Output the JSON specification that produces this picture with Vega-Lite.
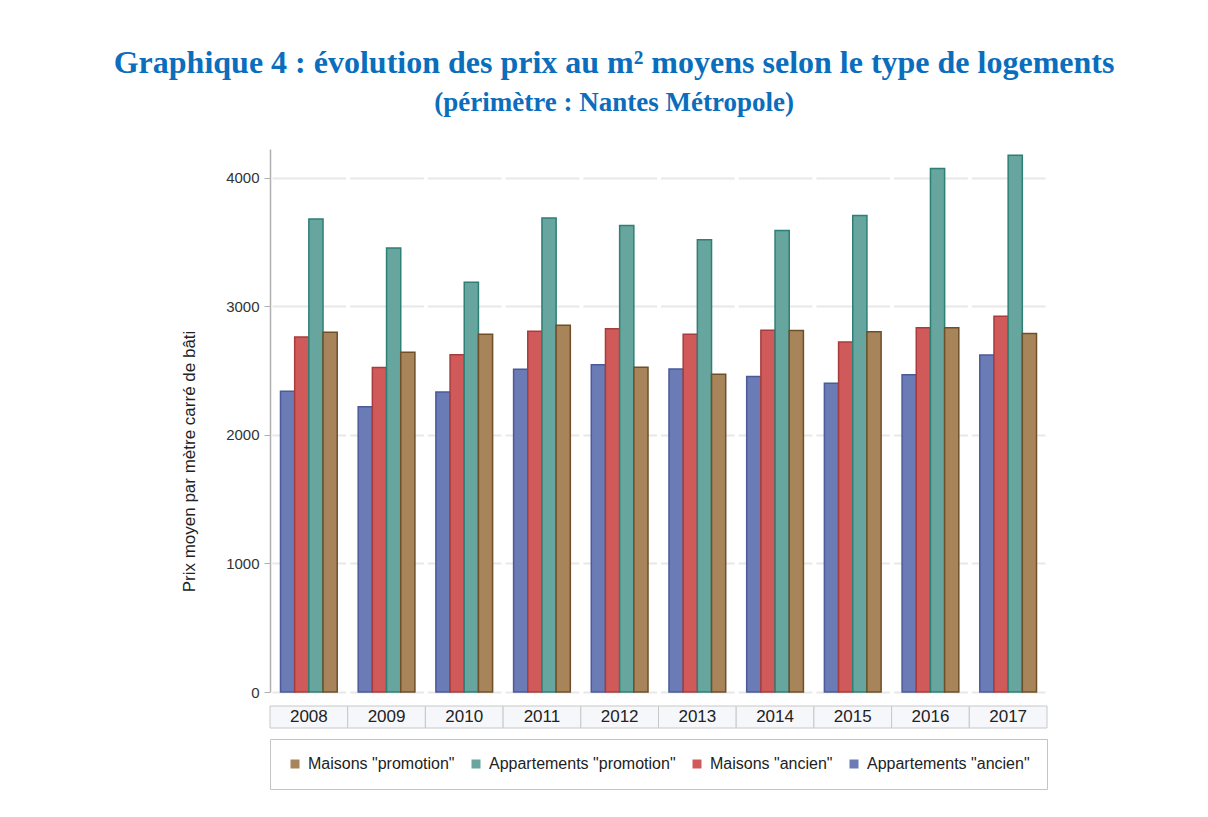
{
  "$schema": "https://vega.github.io/schema/vega-lite/v6.json",
  "background": "white",
  "padding": {"left": 113, "top": 47, "right": 10, "bottom": 5},
  "title": {
    "text": "Graphique 4 : évolution des prix au m² moyens selon le type de logements",
    "subtitle": "(périmètre : Nantes Métropole)",
    "font": "Liberation Serif", "fontSize": 32, "fontWeight": "bold", "color": "#0a6ebd",
    "subtitleFont": "Liberation Serif", "subtitleFontSize": 27, "subtitleFontWeight": "bold", "subtitleColor": "#0a6ebd",
    "anchor": "middle", "offset": 32, "subtitlePadding": 10
  },
  "datasets": {
    "prix": [
      {"annee": "2008", "type": "Appartements \"ancien\"", "prix": 2340},
      {"annee": "2008", "type": "Maisons \"ancien\"", "prix": 2763},
      {"annee": "2008", "type": "Appartements \"promotion\"", "prix": 3681},
      {"annee": "2008", "type": "Maisons \"promotion\"", "prix": 2799},
      {"annee": "2009", "type": "Appartements \"ancien\"", "prix": 2220},
      {"annee": "2009", "type": "Maisons \"ancien\"", "prix": 2524},
      {"annee": "2009", "type": "Appartements \"promotion\"", "prix": 3455},
      {"annee": "2009", "type": "Maisons \"promotion\"", "prix": 2643},
      {"annee": "2010", "type": "Appartements \"ancien\"", "prix": 2335},
      {"annee": "2010", "type": "Maisons \"ancien\"", "prix": 2625},
      {"annee": "2010", "type": "Appartements \"promotion\"", "prix": 3188},
      {"annee": "2010", "type": "Maisons \"promotion\"", "prix": 2783},
      {"annee": "2011", "type": "Appartements \"ancien\"", "prix": 2511},
      {"annee": "2011", "type": "Maisons \"ancien\"", "prix": 2806},
      {"annee": "2011", "type": "Appartements \"promotion\"", "prix": 3689},
      {"annee": "2011", "type": "Maisons \"promotion\"", "prix": 2853},
      {"annee": "2012", "type": "Appartements \"ancien\"", "prix": 2547},
      {"annee": "2012", "type": "Maisons \"ancien\"", "prix": 2827},
      {"annee": "2012", "type": "Appartements \"promotion\"", "prix": 3629},
      {"annee": "2012", "type": "Maisons \"promotion\"", "prix": 2526},
      {"annee": "2013", "type": "Appartements \"ancien\"", "prix": 2514},
      {"annee": "2013", "type": "Maisons \"ancien\"", "prix": 2783},
      {"annee": "2013", "type": "Appartements \"promotion\"", "prix": 3518},
      {"annee": "2013", "type": "Maisons \"promotion\"", "prix": 2472},
      {"annee": "2014", "type": "Appartements \"ancien\"", "prix": 2454},
      {"annee": "2014", "type": "Maisons \"ancien\"", "prix": 2814},
      {"annee": "2014", "type": "Appartements \"promotion\"", "prix": 3590},
      {"annee": "2014", "type": "Maisons \"promotion\"", "prix": 2812},
      {"annee": "2015", "type": "Appartements \"ancien\"", "prix": 2402},
      {"annee": "2015", "type": "Maisons \"ancien\"", "prix": 2724},
      {"annee": "2015", "type": "Appartements \"promotion\"", "prix": 3707},
      {"annee": "2015", "type": "Maisons \"promotion\"", "prix": 2804},
      {"annee": "2016", "type": "Appartements \"ancien\"", "prix": 2469},
      {"annee": "2016", "type": "Maisons \"ancien\"", "prix": 2835},
      {"annee": "2016", "type": "Appartements \"promotion\"", "prix": 4073},
      {"annee": "2016", "type": "Maisons \"promotion\"", "prix": 2835},
      {"annee": "2017", "type": "Appartements \"ancien\"", "prix": 2622},
      {"annee": "2017", "type": "Maisons \"ancien\"", "prix": 2924},
      {"annee": "2017", "type": "Appartements \"promotion\"", "prix": 4177},
      {"annee": "2017", "type": "Maisons \"promotion\"", "prix": 2789}
    ],
    "annees": [
      {"annee": "2008"}, {"annee": "2009"}, {"annee": "2010"}, {"annee": "2011"}, {"annee": "2012"},
      {"annee": "2013"}, {"annee": "2014"}, {"annee": "2015"}, {"annee": "2016"}, {"annee": "2017"}
    ]
  },
  "spacing": 5,
  "resolve": {"scale": {"x": "independent"}},
  "vconcat": [
    {
      "width": 777,
      "height": 543,
      "data": {"name": "prix"},
      "mark": {"type": "bar", "strokeWidth": 1.5},
      "encoding": {
        "x": {"field": "annee", "type": "ordinal", "scale": {"paddingInner": 0.27, "paddingOuter": 0.135}, "axis": null},
        "xOffset": {"field": "type", "type": "nominal", "scale": {"domain": ["Appartements \"ancien\"", "Maisons \"ancien\"", "Appartements \"promotion\"", "Maisons \"promotion\""], "paddingInner": 0, "paddingOuter": 0}},
        "y": {
          "field": "prix", "type": "quantitative",
          "scale": {"domain": [0, 4225], "nice": false, "zero": true},
          "axis": {
            "values": [0, 1000, 2000, 3000, 4000], "format": "d",
            "title": "Prix moyen par mètre carré de bâti", "titleY": 312,
            "grid": true, "gridDash": [73.7, 4], "gridDashOffset": 75.7, "gridColor": "#e8e8e8", "gridWidth": 2,
            "domainColor": "#b0b0b0", "domainWidth": 1.5, "tickColor": "#b0b0b0", "tickSize": 6,
            "labelFont": "Liberation Sans", "labelFontSize": 15, "labelColor": "#333333", "labelPadding": 5,
            "titleFont": "Liberation Sans", "titleFontSize": 17, "titleFontWeight": "normal", "titleColor": "#222222", "titlePadding": 27
          }
        },
        "color": {
          "field": "type", "type": "nominal",
          "scale": {
            "domain": ["Maisons \"promotion\"", "Appartements \"promotion\"", "Maisons \"ancien\"", "Appartements \"ancien\""],
            "range": ["#a8845a", "#66a69e", "#d05a5a", "#6b7bb5"]
          },
          "legend": {
            "title": null, "orient": "bottom", "direction": "horizontal",
            "strokeColor": "#c4c4c4", "padding": 17, "offset": 10,
            "symbolType": "square", "symbolSize": 81, "symbolStrokeWidth": 0,
            "labelFont": "Liberation Sans", "labelFontSize": 16, "labelColor": "#222222", "labelLimit": 400, "labelOffset": 5,
            "columnPadding": 13
          }
        },
        "stroke": {
          "field": "type", "type": "nominal",
          "scale": {
            "domain": ["Maisons \"promotion\"", "Appartements \"promotion\"", "Maisons \"ancien\"", "Appartements \"ancien\""],
            "range": ["#6e4f28", "#2e7f74", "#a83c3c", "#4a5a9a"]
          },
          "legend": null
        }
      }
    },
    {
      "width": 777,
      "height": 22,
      "data": {"name": "annees"},
      "layer": [
        {
          "mark": {"type": "rect", "fill": "#f6f7fb", "stroke": "#c8c8c8", "strokeWidth": 1},
          "encoding": {
            "x": {"field": "annee", "type": "ordinal", "scale": {"paddingInner": 0, "paddingOuter": 0}, "axis": null}
          }
        },
        {
          "mark": {"type": "text", "font": "Liberation Sans", "fontSize": 17, "color": "#222222", "baseline": "middle"},
          "encoding": {
            "x": {"field": "annee", "type": "ordinal", "axis": null},
            "text": {"field": "annee"}
          }
        }
      ]
    }
  ],
  "config": {
    "view": {"stroke": null}
  }
}
